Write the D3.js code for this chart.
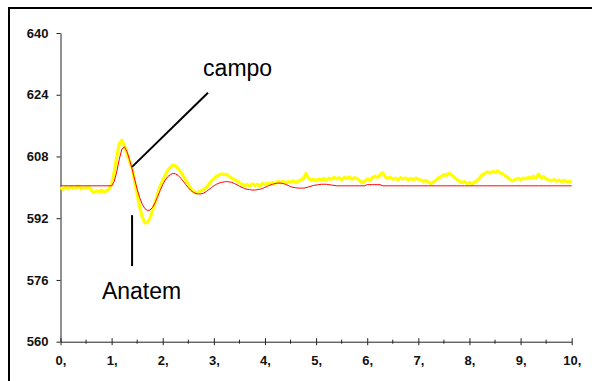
<!DOCTYPE html>
<html>
<head>
<meta charset="utf-8">
<script src="https://cdn.jsdelivr.net/npm/d3@7"></script>
<style>
  body { margin: 0; background: #fff; }
  svg { display: block; font-family: "Liberation Sans", Arial, sans-serif; }
  .tick text { font-weight: bold; font-size: 13px; fill: #111; }
</style>
</head>
<body>
<div id="chart"></div>
<script>
// sampling step of both records (seconds)
const sampleStep = 0.05

const yTicks = [560, 576, 592, 608, 624, 640]
const xMajorTicks = [0, 1, 2, 3, 4, 5, 6, 7, 8, 9, 10]
const xMinorTicks = [0.5, 1.5, 2.5, 3.5, 4.5, 5.5, 6.5, 7.5, 8.5, 9.5]

// measured (campo) - yellow
const campo = [
  600.0, 599.5, 600.1, 599.6, 600.2, 599.7, 599.9, 600.3, 599.6, 599.9,
  599.8, 600.1, 599.4, 598.6, 599.1, 598.8, 599.3, 598.7, 599.2, 599.5,
  600.8, 604.0, 608.0, 611.3, 612.2, 610.8, 608.7, 606.8, 605.0, 601.5,
  598.3, 594.8, 592.2, 590.8, 590.9, 592.0, 594.0, 596.0, 598.3, 600.4,
  601.8, 603.2, 604.5, 605.2, 605.8, 605.6, 604.9, 604.0, 603.0, 601.9,
  600.8, 599.6, 599.0, 598.5, 598.8, 599.1, 599.5, 599.9, 600.8, 601.6,
  602.2, 602.9, 603.2, 603.5, 603.3, 603.4, 602.8, 602.4, 602.0, 601.7,
  601.2, 600.8, 600.5, 600.7, 600.3, 600.9, 600.5, 600.8, 600.4, 601.0,
  600.7, 601.1, 600.8, 601.3, 601.0, 601.5, 601.2, 601.6, 601.1, 601.5,
  601.3, 601.7, 601.2, 601.6, 601.9, 602.3, 603.6, 602.4, 601.8, 602.1,
  601.7, 602.2, 601.9, 602.3, 601.8, 602.4, 602.1, 602.6, 602.2, 602.5,
  602.0, 602.6, 602.3, 602.7, 602.1, 602.5, 602.3, 601.8, 601.2, 601.6,
  602.2, 601.7, 602.5, 602.9, 602.6, 603.2, 603.8, 602.7, 602.3, 602.6,
  602.1, 602.4, 602.0, 602.5, 602.2, 602.4, 601.9, 602.3, 602.0, 602.4,
  602.1, 601.9, 601.6, 601.8, 601.3, 601.0, 601.4, 601.9, 602.5, 602.8,
  603.3, 603.1, 603.7, 603.2, 602.6, 602.1, 601.6, 601.2, 601.5, 601.0,
  601.3, 600.8, 601.4, 601.7, 602.5, 603.3, 603.6, 604.0, 603.7, 604.1,
  603.9, 604.3, 603.8, 603.5, 603.0, 602.6, 601.9, 601.7, 602.1, 602.3,
  602.0, 602.4, 602.2, 602.6, 602.3, 602.9, 602.4, 603.4, 602.5, 602.8,
  602.2, 601.9, 601.7, 602.0, 601.6, 601.9, 601.5, 601.8, 601.4, 601.6,
  601.2
]

// simulated (Anatem) - red
const anatem = [
  600.4, 600.4, 600.4, 600.4, 600.4, 600.4, 600.4, 600.4, 600.4, 600.4,
  600.4, 600.4, 600.4, 600.4, 600.4, 600.4, 600.4, 600.4, 600.4, 600.4,
  600.4, 601.5, 604.0, 607.3, 609.9, 610.5, 609.3, 607.2, 604.8, 602.1,
  599.5, 597.3, 595.6, 594.5, 594.0, 594.1, 594.8, 596.0, 597.6, 599.2,
  600.7, 601.9, 602.8, 603.3, 603.6, 603.5, 603.1, 602.4, 601.6, 600.7,
  599.9, 599.2, 598.7, 598.4, 598.3, 598.3, 598.5, 598.9, 599.4, 599.9,
  600.4, 600.8, 601.1, 601.3, 601.4, 601.5, 601.4, 601.3, 601.0, 600.7,
  600.3, 600.0, 599.7, 599.5, 599.4, 599.3, 599.3, 599.4, 599.5, 599.7,
  600.0, 600.3, 600.6, 600.8, 601.0, 601.1, 601.1, 601.0, 600.8, 600.5,
  600.2, 600.0, 599.9, 599.8, 599.8, 599.8, 599.9, 600.1, 600.3, 600.5,
  600.6, 600.7, 600.8, 600.8, 600.8, 600.7, 600.6, 600.5, 600.4, 600.4,
  600.4, 600.4, 600.4, 600.4, 600.4, 600.4, 600.4, 600.4, 600.4, 600.4,
  600.7, 600.7, 600.7, 600.7, 600.7, 600.7, 600.4, 600.4, 600.4, 600.4,
  600.4, 600.4, 600.4, 600.4, 600.4, 600.4, 600.4, 600.4, 600.4, 600.4,
  600.4, 600.4, 600.4, 600.4, 600.4, 600.4, 600.4, 600.4, 600.4, 600.4,
  600.4, 600.4, 600.4, 600.4, 600.4, 600.4, 600.4, 600.4, 600.4, 600.4,
  600.4, 600.4, 600.4, 600.4, 600.4, 600.4, 600.4, 600.4, 600.4, 600.4,
  600.4, 600.4, 600.4, 600.4, 600.4, 600.4, 600.4, 600.4, 600.4, 600.4,
  600.4, 600.4, 600.4, 600.4, 600.4, 600.4, 600.4, 600.4, 600.4, 600.4,
  600.4, 600.4, 600.4, 600.4, 600.4, 600.4, 600.4, 600.4, 600.4, 600.4,
  600.4
]

// annotation labels, in data units (time, value)
const labels = ["campo", "Anatem"]
const labelPos = [[2.79, 628.9], [0.81, 571.0]]
const leaderFrom = [[2.885, 624.5], [1.40, 592.8]]
const leaderTo = [[1.40, 605.3], [1.40, 579.6]]

const width = 592
const height = 381
const margin = {top: 33, right: 20.3, bottom: 39.3, left: 60.5}

const svg = d3.select("#chart")
  .append("svg")
    .attr("width", width)
    .attr("height", height)

svg.append("rect")
  .attr("width", width).attr("height", height)
  .attr("fill", "#fff")

// frame (only top and left edges fall inside the picture)
svg.append("path")
  .attr("d", "M9," + (height + 5) + "V8H" + (width + 5))
  .attr("fill", "none")
  .attr("stroke", "#000")
  .attr("stroke-width", 2)

const xScale = d3.scaleLinear().domain([0, 10]).range([margin.left, width - margin.right])
const yScale = d3.scaleLinear().domain([560, 640]).range([height - margin.bottom, margin.top])

const yAxis = svg.append("g")
  .attr("transform", "translate(" + margin.left + ",0)")
  .call(d3.axisLeft(yScale).tickValues(yTicks).tickSizeInner(4).tickSizeOuter(0).tickPadding(8).tickFormat(d3.format("d")))
yAxis.select(".domain").attr("stroke", "#222")
yAxis.selectAll(".tick line").attr("stroke", "#222")

const xAxis = svg.append("g")
  .attr("transform", "translate(0," + yScale(560) + ")")
  .call(d3.axisBottom(xScale).tickValues(xMajorTicks).tickSizeInner(7).tickSizeOuter(0).tickPadding(7).tickFormat(d => d + ","))
xAxis.select(".domain").attr("stroke", "#222")
xAxis.selectAll(".tick line").attr("y1", -3.5).attr("y2", 3.5).attr("stroke", "#222")

xAxis.selectAll(".minor")
  .data(xMinorTicks)
  .join("line")
    .attr("class", "minor")
    .attr("x1", d => xScale(d)).attr("x2", d => xScale(d))
    .attr("y1", -2).attr("y2", 2)
    .attr("stroke", "#222")

const lineGenerator = d3.line()
  .x((d, i) => xScale(i * sampleStep))
  .y(d => yScale(d))

svg.append("path")
  .datum(campo)
  .attr("fill", "none")
  .attr("stroke", "#ffff00")
  .attr("stroke-width", 3.2)
  .attr("stroke-linejoin", "round")
  .attr("d", lineGenerator)

svg.append("path")
  .datum(anatem)
  .attr("fill", "none")
  .attr("stroke", "#ff0000")
  .attr("stroke-width", 1)
  .attr("d", lineGenerator)

// leaders and labels
svg.selectAll(".leader")
  .data(labels)
  .join("line")
    .attr("class", "leader")
    .attr("x1", (d, i) => xScale(leaderFrom[i][0]))
    .attr("y1", (d, i) => yScale(leaderFrom[i][1]))
    .attr("x2", (d, i) => xScale(leaderTo[i][0]))
    .attr("y2", (d, i) => yScale(leaderTo[i][1]))
    .attr("stroke", "#000")
    .attr("stroke-width", 2)

svg.selectAll(".label")
  .data(labels)
  .join("text")
    .attr("class", "label")
    .attr("x", (d, i) => xScale(labelPos[i][0]))
    .attr("y", (d, i) => yScale(labelPos[i][1]))
    .attr("font-size", 23)
    .attr("fill", "#000")
    .text(d => d)
</script>
</body>
</html>
